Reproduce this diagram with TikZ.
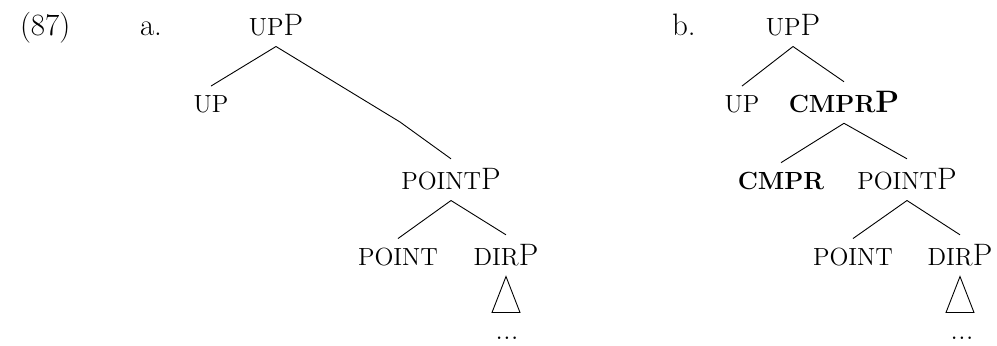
\documentclass[tikz,border=0pt]{standalone}
\newcommand{\petit}[1]{{\fontsize{12.4}{14}\selectfont #1}}
\begin{document}
\begin{tikzpicture}[x=0.5pt, y=-0.5pt]
	\tikzset{noeud/.style={anchor=base, inner sep=0pt, outer sep=5pt, font=\fontsize{15.5}{18}\selectfont},
	branche/.style={line width=0.45pt}};
	\useasboundingbox (0,0) rectangle (997,346);

	% numero et lettres
	\node[noeud, anchor=base west] (num) at (10,36) {(87)};
	\node[noeud, anchor=base west] (lettreA) at (130,36) {a.};
	\node[noeud, anchor=base west] (lettreB) at (662,36) {b.};

	% arbre a
	\node[noeud] (upPA) at (276,36) {\petit{UP}P};
	\node[noeud] (upA) at (211,113) {\petit{UP}};
	\coordinate (coude) at (400,122);
	\node[noeud] (pointPA) at (451,190) {\petit{POINT}P};
	\node[noeud] (pointA) at (398,266) {\petit{POINT}};
	\node[noeud] (dirPA) at (506,266) {\petit{DIR}P};
	\node[noeud] (ptsA) at (507,340) {...};

	% arbre b
	\node[noeud] (upPB) at (793,36) {\petit{UP}P};
	\node[noeud] (upB) at (742,113) {\petit{UP}};
	\node[noeud] (cmprPB) at (844,113) {\textbf{\petit{CMPR}P}};
	\node[noeud] (cmprB) at (781,190) {\textbf{\petit{CMPR}}};
	\node[noeud] (pointPB) at (907,190) {\petit{POINT}P};
	\node[noeud] (pointB) at (853,266) {\petit{POINT}};
	\node[noeud] (dirPB) at (960,266) {\petit{DIR}P};
	\node[noeud] (ptsB) at (962,340) {...};

	\foreach \pere/\fils in {upPA/upA, pointPA/pointA, pointPA/dirPA,
		upPB/upB, upPB/cmprPB, cmprPB/cmprB, cmprPB/pointPB, pointPB/pointB, pointPB/dirPB}{
		\draw[branche] (\pere.south) -- (\fils.north);
	}
	\draw[branche] (upPA.south) -- (coude) -- (pointPA.north);

	% triangles
	\foreach \n in {dirPA, dirPB}{
		\draw[branche] (\n.south) -- ++(-14,36) -- ++(28,0) -- cycle;
	}

\end{tikzpicture}
\end{document}
